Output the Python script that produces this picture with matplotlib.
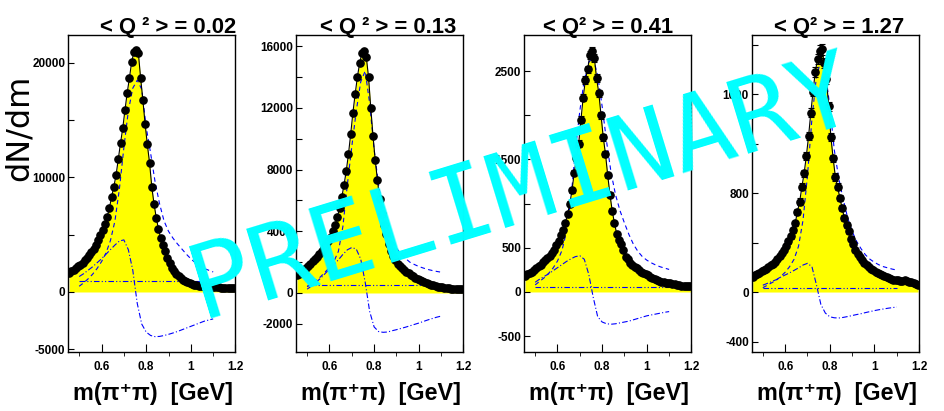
"""Rho meson mass spectra in four <Q^2> bins, drawn in the ROOT style."""

import matplotlib
matplotlib.use('Agg')  # no display here
import matplotlib.pyplot as plt
from matplotlib.ticker import MultipleLocator
import numpy as np

plt.rcParams['font.family'] = ['Liberation Sans', 'DejaVu Sans']

# bin centres of the m(pi+pi) histograms (10 MeV bins)
mass_bins = np.round(np.arange(0.455, 1.2, 0.01), 3)
# mass points the fit components are drawn at
comp_mass = np.round(np.arange(0.50, 1.101, 0.02), 2)

q2_titles = ['< Q ² > = 0.02', '< Q ² > = 0.13', '< Q² > = 0.41', '< Q² > = 1.27']

# --- <Q^2> = 0.02 ---
counts_002 = [1700, 1800, 1950, 2100, 2250, 2400, 2550, 2750, 2950, 3200,
              3450, 3750, 4100, 4500, 5000, 5450, 5900, 6550, 7300, 8300,
              9200, 10200, 11600, 13000, 14300, 15900, 17400, 18700, 20100, 20950,
              21100, 20850, 18700, 16800, 14700, 12900, 11300, 9200, 7700, 6500,
              5500, 4700, 4100, 3550, 3000, 2500, 2100, 1800, 1550, 1370,
              1220, 1080, 960, 860, 780, 710, 650, 600, 560, 530,
              500, 480, 460, 440, 430, 420, 410, 400, 390, 380,
              370, 360, 350, 340, 320]
rho_002 = [500, 800, 1150, 1550, 2050, 2650, 3400, 4500, 6200, 9000,
           12600, 15800, 17800, 18500, 17700, 14400, 12100, 9600, 7700, 6200,
           5300, 4700, 4200, 3750, 3300, 2900, 2550, 2250, 2050, 1900, 1750]
interf_002 = [1350, 1600, 1900, 2200, 2550, 2900, 3300, 3700, 4100, 4450,
              4550, 3700, 1900, -1000, -2800, -3500, -3800, -3900, -3880, -3800,
              -3700, -3580, -3450, -3300, -3150, -3000, -2850, -2700, -2550, -2450, -2350]
bkg_002 = 950

# --- <Q^2> = 0.13 ---
counts_013 = [1150, 1250, 1350, 1480, 1600, 1750, 1900, 2050, 2200, 2350,
              2550, 2750, 2950, 3150, 3350, 3650, 4000, 4400, 4900, 5500,
              6200, 7000, 7900, 9000, 10300, 11700, 12900, 14000, 14900, 15550,
              15700, 15300, 14000, 12000, 10200, 8600, 7300, 6100, 5100, 4400,
              3800, 3200, 2750, 2400, 2120, 1900, 1740, 1600, 1480, 1370,
              1270, 1170, 1080, 1000, 920, 850, 780, 720, 660, 600,
              550, 500, 460, 420, 390, 360, 340, 320, 300, 290,
              280, 270, 260, 255, 250]
rho_013 = [400, 600, 800, 1050, 1350, 1650, 2050, 2700, 4300, 7000,
           9500, 11800, 13700, 14400, 12300, 9300, 7000, 5300, 4200, 3400,
           2900, 2550, 2250, 2000, 1850, 1720, 1620, 1530, 1460, 1400, 1350]
interf_013 = [250, 450, 700, 950, 1250, 1550, 1850, 2150, 2500, 2800,
              2950, 2850, 2200, 700, -1200, -2200, -2500, -2550, -2530, -2450,
              -2380, -2300, -2220, -2130, -2040, -1950, -1850, -1750, -1660, -1570, -1500]
bkg_013 = 500

# --- <Q^2> = 0.41 ---
counts_041 = [180, 200, 215, 230, 250, 270, 290, 310, 335, 360,
              385, 410, 440, 480, 530, 580, 640, 700, 780, 880,
              1000, 1150, 1350, 1520, 1680, 1950, 2200, 2400, 2520, 2680,
              2730, 2650, 2420, 2250, 2000, 1750, 1560, 1320, 1100, 920,
              780, 660, 590, 540, 480, 400, 370, 330, 305, 285,
              270, 245, 225, 210, 200, 190, 175, 155, 145, 135,
              125, 118, 112, 105, 105, 98, 90, 87, 75, 80,
              70, 72, 65, 68, 70]
errors_041 = [11, 12, 12, 13, 13, 14, 14, 15, 16, 16,
              17, 17, 18, 19, 20, 20, 22, 22, 24, 25,
              27, 29, 31, 33, 35, 38, 40, 42, 43, 44,
              45, 44, 42, 40, 38, 36, 34, 31, 28, 26,
              24, 22, 21, 20, 19, 17, 16, 15, 15, 14,
              14, 13, 13, 12, 12, 12, 11, 11, 10, 10,
              10, 9, 9, 9, 9, 8, 8, 8, 7, 8,
              7, 7, 7, 7, 7]
rho_041 = [80, 120, 160, 210, 270, 350, 470, 680, 1050, 1600,
           2050, 2400, 2600, 2650, 2450, 2100, 1700, 1350, 1100, 920,
           780, 650, 540, 460, 400, 360, 330, 305, 285, 270, 255]
interf_041 = [110, 145, 175, 205, 240, 275, 310, 345, 375, 400,
              410, 370, 200, -60, -280, -340, -360, -365, -360, -350,
              -340, -330, -315, -300, -285, -270, -260, -250, -240, -230, -222]
bkg_041 = 60

# --- <Q^2> = 1.27 ---
counts_127 = [125, 135, 145, 155, 170, 180, 190, 205, 215, 230,
              245, 265, 290, 315, 340, 370, 410, 450, 500, 555,
              650, 730, 850, 960, 1100, 1260, 1450, 1620, 1780, 1880,
              1950, 1960, 1850, 1720, 1500, 1250, 1080, 930, 850, 760,
              680, 600, 540, 490, 430, 390, 340, 310, 280, 255,
              235, 215, 200, 190, 178, 165, 155, 145, 135, 128,
              120, 112, 108, 100, 97, 95, 92, 90, 95, 88,
              80, 84, 72, 68, 60]
errors_127 = [11, 11, 11, 12, 12, 13, 13, 14, 14, 14,
              15, 15, 16, 17, 18, 18, 19, 20, 21, 22,
              24, 26, 28, 29, 32, 34, 36, 38, 40, 41,
              42, 42, 41, 39, 37, 33, 31, 29, 28, 26,
              25, 23, 22, 21, 20, 19, 18, 17, 16, 15,
              15, 14, 13, 13, 13, 12, 12, 11, 11, 11,
              10, 10, 10, 10, 9, 9, 9, 9, 9, 9,
              8, 9, 8, 8, 7]
rho_127 = [35, 55, 75, 95, 125, 160, 205, 265, 370, 580,
           940, 1400, 1740, 1870, 1780, 1500, 1150, 920, 750, 600,
           490, 410, 350, 300, 265, 240, 220, 205, 195, 185, 178]
interf_127 = [55, 70, 85, 100, 120, 138, 155, 175, 195, 218,
              232, 205, 60, -100, -170, -200, -208, -210, -205, -198,
              -190, -182, -175, -166, -158, -150, -143, -137, -131, -126, -121]
bkg_127 = 30

# y axis ticks and which of them carry a label
yticks_002 = [-5000, 0, 5000, 10000, 15000, 20000]
ylabels_002 = ['-5000', '0', '', '10000', '', '20000']
yticks_013 = [-2000, 0, 2000, 4000, 6000, 8000, 10000, 12000, 14000, 16000]
ylabels_013 = ['-2000', '0', '', '4000', '', '8000', '', '12000', '', '16000']
yticks_041 = [-500, 0, 500, 1000, 1500, 2000, 2500]
ylabels_041 = ['-500', '0', '500', '', '1500', '', '2500']
yticks_127 = [-400, 0, 400, 800, 1200, 1600, 2000]
ylabels_127 = ['-400', '0', '', '800', '', '1600', '']

YELLOW = '#ffff00'
BLUE = '#0000ff'


def draw_panel(ax, counts, errors, rho, interf, bkg, yticks, ylabels, ylim, title, title_x):
    """One <Q^2> bin: data, total fit with yellow fill and the fit components."""
    ax.fill_between(mass_bins, 0, counts, color=YELLOW, lw=0, zorder=1)
    ax.plot(comp_mass, rho, color=BLUE, lw=0.8, ls=(0, (4, 3)), zorder=2)
    ax.plot(comp_mass, interf, color=BLUE, lw=0.8, ls=(0, (5, 2, 1, 2)), zorder=2)
    ax.plot([comp_mass[0], comp_mass[-1]], [bkg, bkg], color=BLUE, lw=0.8,
            ls=(0, (5, 2, 1, 2, 1, 2)), zorder=2)
    ax.plot(mass_bins, counts, color='black', lw=0.8, zorder=3)
    if errors is not None:
        ax.errorbar(mass_bins, counts, yerr=errors, fmt='none', ecolor='black',
                    elinewidth=0.8, capsize=2, capthick=0.8, zorder=4)
    ax.plot(mass_bins, counts, 'o', color='black', ms=5.2, zorder=5)

    ax.set_xlim(0.45, 1.2)
    ax.set_ylim(*ylim)
    ax.set_xticks([0.6, 0.8, 1.0, 1.2])
    ax.set_xticklabels(['0.6', '0.8', '1', '1.2'])
    ax.xaxis.set_minor_locator(MultipleLocator(0.1))
    ax.set_yticks(yticks)
    ax.set_yticklabels(ylabels)
    ax.tick_params(direction='in', top=False, right=False, width=0.8, labelsize=8.5)
    ax.tick_params(axis='x', which='major', length=6, pad=7)
    ax.tick_params(axis='x', which='minor', length=3)
    ax.tick_params(axis='y', length=4, pad=2)
    for lab in ax.get_xticklabels() + ax.get_yticklabels():
        lab.set_fontweight('bold')
    for sp in ax.spines.values():
        sp.set_linewidth(1.0)

    ax.text(title_x, 1.006, title, transform=ax.transAxes, ha='center', va='baseline',
            fontsize=15.8, fontweight='bold')
    ax.text(0.985, -0.1525, 'm(π⁺π)  [GeV]', transform=ax.transAxes, ha='right',
            va='baseline', fontsize=16.8, fontweight='bold')


fig = plt.figure(figsize=(9.45, 4.11), dpi=100)

panel_left = [0.0720, 0.3132, 0.5545, 0.7954]
title_x = [0.595, 0.55, 0.504, 0.525]
panels = [
    (counts_002, None, rho_002, interf_002, bkg_002, yticks_002, ylabels_002, (-5214, 22445)),
    (counts_013, None, rho_013, interf_013, bkg_013, yticks_013, ylabels_013, (-3807, 16735)),
    (counts_041, errors_041, rho_041, interf_041, bkg_041, yticks_041, ylabels_041, (-676, 2909)),
    (counts_127, errors_127, rho_127, interf_127, bkg_127, yticks_127, ylabels_127, (-482, 2077)),
]

for i, p in enumerate(panels):
    ax = fig.add_axes([panel_left[i], 0.1443, 0.1772, 0.7706])
    draw_panel(ax, *p, title=q2_titles[i], title_x=title_x[i])

fig.text(19 / 945, 1 - 127.5 / 411, 'dN/dm', rotation=90, ha='center', va='center',
         fontsize=23, family='DejaVu Sans')

# watermark on top of everything
fig.text(0.5524, 0.54, 'PRELIMINARY', rotation=17, rotation_mode='anchor',
         ha='center', va='center', color='#00ffff', fontsize=75,
         family='DejaVu Sans Mono', zorder=10)

fig.savefig('out.png', dpi=100)
